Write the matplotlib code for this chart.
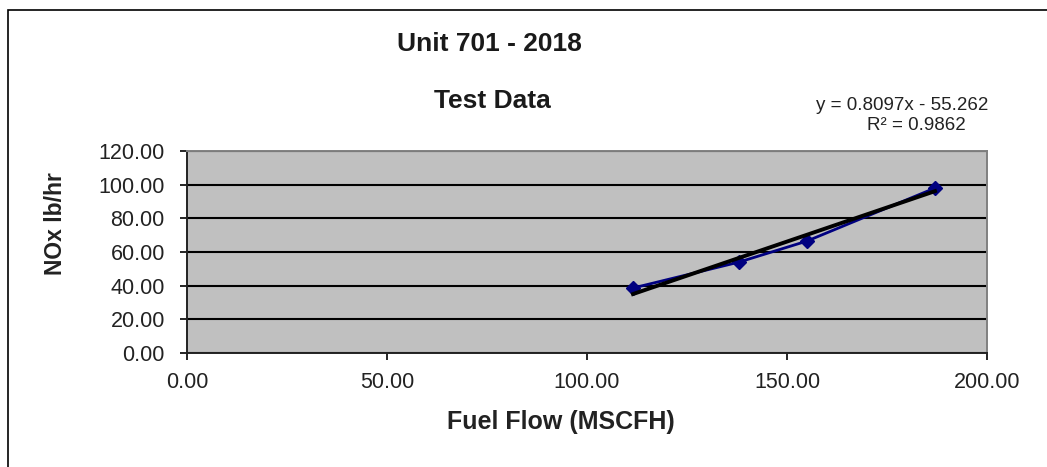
import matplotlib
matplotlib.use("Agg")
import matplotlib.pyplot as plt
from matplotlib.patches import Rectangle

plt.rcParams["font.family"] = ["Liberation Sans", "DejaVu Sans"]

# ── Data ──────────────────────────────────────────────────────────────────────
fuel_flow = [111.5, 138.0, 155.0, 187.0]   # MSCFH
nox_lbhr  = [38.6, 54.0, 66.5, 98.0]       # lb/hr
slope, intercept, r2 = 0.8097, -55.262, 0.9862
x_ticks = [0, 50, 100, 150, 200]
y_ticks = [0, 20, 40, 60, 80, 100, 120]

W, H = 1047, 467
fig = plt.figure(figsize=(W / 100, H / 100), dpi=100)

# chart-area border (Excel style)
fig.patches.append(Rectangle((8 / W, -0.1), 1.2, 1.1 - 10 / H, transform=fig.transFigure,
                             fill=False, edgecolor="black", linewidth=1.2))

ax = fig.add_axes([187 / W, 1 - 353 / H, 800 / W, 202 / H])
ax.set_facecolor("#C0C0C0")
ax.set_xlim(0, 200)
ax.set_ylim(0, 120)
ax.set_xticks(x_ticks)
ax.set_yticks(y_ticks)
ax.set_xticklabels([f"{v:.2f}" for v in x_ticks], fontsize=15.5, color="#222222")
ax.set_yticklabels([f"{v:.2f}" for v in y_ticks], fontsize=15.5, color="#222222")
ax.tick_params(direction="out", length=5, width=1.2)
ax.tick_params(axis="y", pad=11)
ax.tick_params(axis="x", pad=9)
ax.grid(axis="y", color="black", linewidth=1.5)
ax.set_axisbelow(True)
for side in ("left", "bottom"):
    ax.spines[side].set_color("#222222")
    ax.spines[side].set_linewidth(1.4)
for side in ("top", "right"):
    ax.spines[side].set_color("#808080")
    ax.spines[side].set_linewidth(1.4)

ax.plot(fuel_flow, nox_lbhr, color="#000080", marker="D", markersize=7,
        linewidth=2, zorder=3)
tx = [min(fuel_flow), max(fuel_flow)]
ax.plot(tx, [slope * v + intercept for v in tx], color="black", linewidth=2.8, zorder=4)

fig.text(489 / W, 1 - 44 / H, "Unit 701 - 2018", ha="center", va="center",
         fontsize=19, fontweight="bold", color="#1a1a1a")
fig.text(492 / W, 1 - 101 / H, "Test Data", ha="center", va="center",
         fontsize=19, fontweight="bold", color="#1a1a1a")
fig.text(988 / W, 1 - 106 / H, f"y = {slope}x - {abs(intercept)}", ha="right",
         va="center", fontsize=13.5, color="#222222")
fig.text(916 / W, 1 - 125 / H, f"R² = {r2}", ha="center", va="center",
         fontsize=13.5, color="#222222")
fig.text(561 / W, 1 - 422 / H, "Fuel Flow (MSCFH)", ha="center", va="center",
         fontsize=18, fontweight="bold", color="#222222")
fig.text(56 / W, 1 - 224 / H, "NOx lb/hr", ha="center", va="center",
         rotation=90, fontsize=16.5, fontweight="bold", color="#222222")

plt.savefig("out.png", dpi=100)
